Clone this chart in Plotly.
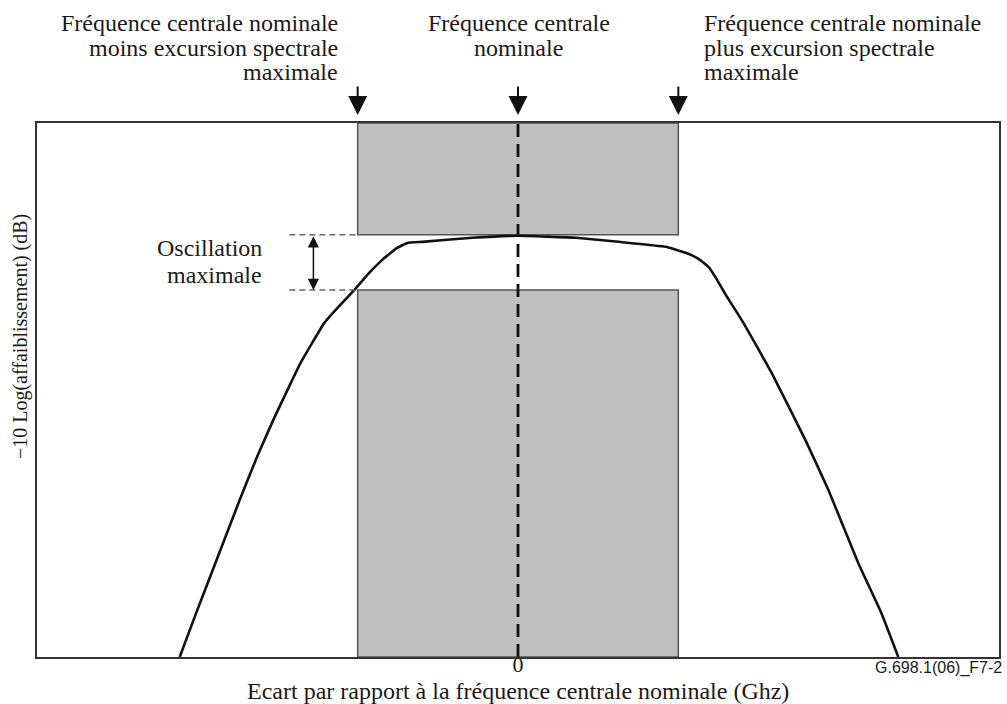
import plotly.graph_objects as go

# ---- data ----
curve_x = [-10.55, -10.05, -9.52, -8.68, -8.14, -7.63, -6.78, -6.04, -5.57, -5.10, -4.67, -4.20,
           -3.77, -3.45, -2.99, -1.43, 0.0, 1.81, 3.14, 4.61, 5.23, 5.63, 5.94, 6.19, 6.50, 7.03,
           7.91, 8.96, 9.68, 10.61, 11.33, 11.86]
curve_y = [-23.02, -20.68, -18.28, -14.46, -12.11, -10.09, -6.98, -4.80, -3.87, -3.00, -2.13, -1.31,
           -0.71, -0.44, -0.38, -0.16, -0.05, -0.16, -0.38, -0.65, -0.98, -1.31, -1.75, -2.40, -3.33,
           -4.80, -7.53, -11.18, -13.91, -17.89, -20.62, -23.02]

x_range = [-15.0, 15.0]
y_range = [-23.02, 6.1]
excursion = 5.0          # max spectral excursion (GHz)
ripple_top = 0.0         # dB
ripple_bottom = -3.0     # dB
ripple_arrow_x = -6.38
ripple_dash_start = -7.13

tick_vals = [0]
tick_text = ["0"]

SERIF = "Liberation Serif, Times New Roman, serif"
TXT = "#1a1a1a"

W, H = 1007, 704
L, R, T, B = 37, 6, 123, 47
PW, PH = W - L - R, H - T - B


def px_x(p):
    return (p - L) / PW


def px_y(p):
    return (H - B - p) / PH


fig = go.Figure()
fig.add_trace(go.Scatter(x=curve_x, y=curve_y, mode="lines",
                         line=dict(color="#111111", width=2.6, shape="spline", smoothing=0.3),
                         hoverinfo="skip", showlegend=False))

shapes = [
    dict(type="rect", xref="x", yref="y", x0=-excursion, x1=excursion, y0=ripple_top, y1=y_range[1],
         fillcolor="#c0c0c0", line=dict(color="#555555", width=1.5), layer="below"),
    dict(type="rect", xref="x", yref="y", x0=-excursion, x1=excursion, y0=y_range[0], y1=ripple_bottom,
         fillcolor="#c0c0c0", line=dict(color="#555555", width=1.5), layer="below"),
    dict(type="line", xref="x", yref="y", x0=ripple_dash_start, x1=-excursion, y0=ripple_top, y1=ripple_top,
         line=dict(color="#666666", width=1.5, dash="6px,4px")),
    dict(type="line", xref="x", yref="y", x0=ripple_dash_start, x1=-excursion, y0=ripple_bottom, y1=ripple_bottom,
         line=dict(color="#666666", width=1.5, dash="6px,4px")),
    dict(type="line", xref="x", yref="y", x0=0, x1=0, y0=y_range[0], y1=y_range[1],
         line=dict(color="#111111", width=2.8, dash="13px,7px")),
]

ann = []


def text(s, x, y, anchor, size=24, font=SERIF, **kw):
    ann.append(dict(text=s, x=x, y=y, xref="paper", yref="paper", xanchor=anchor, yanchor="middle",
                    showarrow=False, font=dict(family=font, size=size, color=TXT), **kw))


# top-left label
for s, yy in [("Fréquence centrale nominale", 23), ("moins excursion spectrale", 48), ("maximale", 72)]:
    text(s, px_x(341), px_y(yy), "right")
# centre label
for s, yy in [("Fréquence centrale", 23), ("nominale", 48)]:
    text(s, px_x(520), px_y(yy), "center")
# right label
for s, yy in [("Fréquence centrale nominale", 23), ("plus excursion spectrale", 48), ("maximale", 72)]:
    text(s, px_x(703), px_y(yy), "left")
# ripple label
for s, yy in [("Oscillation", 248), ("maximale", 275)]:
    text(s, px_x(264), px_y(yy), "right")
# x axis title
text("Ecart par rapport à la fréquence centrale nominale (Ghz)", px_x(519), px_y(691), "center",
     borderpad=0)
# y axis title
text("\u221210 Log(affaiblissement) (dB)", px_x(20), px_y(337), "center", size=20, textangle=-90)
# figure id
text("G.698.1(06)_F7-2", px_x(1006), px_y(668), "right", size=16, font="Liberation Sans, Arial, sans-serif")

# top arrows
for xv in [-excursion, 0, excursion]:
    ann.append(dict(x=xv, y=px_y(115), xref="x", yref="paper", text="", showarrow=True,
                    ax=0, ay=-30, axref="pixel", ayref="pixel", arrowhead=2, arrowsize=1.9,
                    arrowwidth=2, arrowcolor="#111111", standoff=0))
# ripple double arrow
ann.append(dict(x=ripple_arrow_x, y=ripple_bottom, xref="x", yref="y", text="", showarrow=True,
                ax=ripple_arrow_x, ay=ripple_top, axref="x", ayref="y", arrowhead=2, startarrowhead=2,
                arrowside="end+start", arrowsize=1.5, startarrowsize=1.5, arrowwidth=1.5,
                arrowcolor="#111111", standoff=0, startstandoff=0))

fig.update_layout(
    width=W, height=H, margin=dict(l=L, r=R, t=T, b=B),
    paper_bgcolor="white", plot_bgcolor="white",
    shapes=shapes, annotations=ann, showlegend=False,
    xaxis=dict(range=x_range, showgrid=False, zeroline=False, showline=True, mirror=True,
               linecolor="#333333", linewidth=1.5, ticks="", tickvals=tick_vals, ticktext=tick_text,
               tickfont=dict(family=SERIF, size=22, color=TXT), ticklabelstandoff=-13, fixedrange=True),
    yaxis=dict(range=y_range, showgrid=False, zeroline=False, showline=True, mirror=True,
               linecolor="#333333", linewidth=1.5, showticklabels=False, ticks="", fixedrange=True),
)

fig.write_html("out.html", config={"displayModeBar": False},
               post_script="document.body.style.margin='0';document.body.style.overflow='hidden';")
